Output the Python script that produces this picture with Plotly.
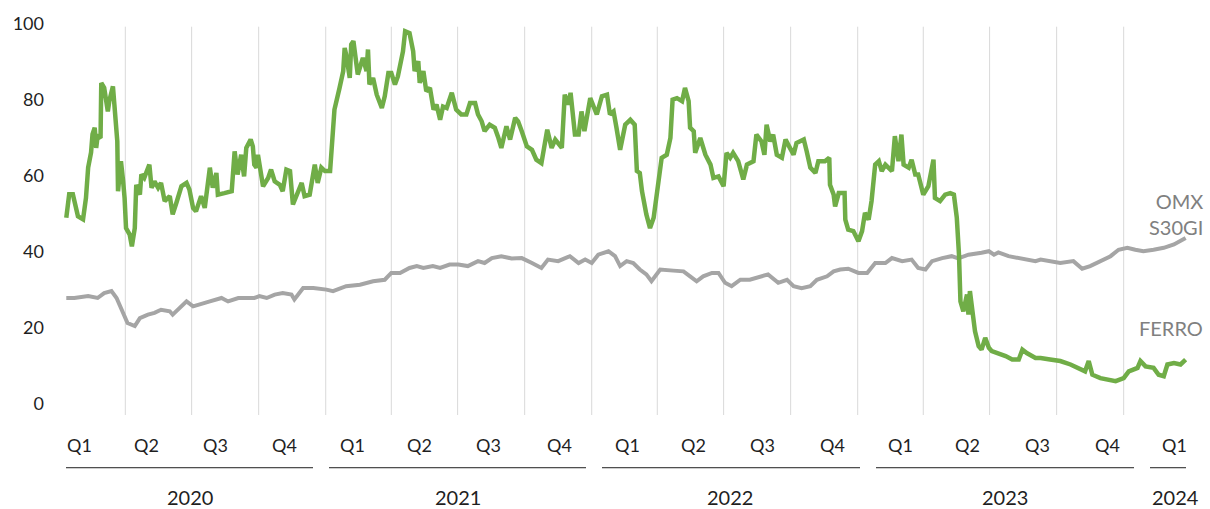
import pandas as pd
import plotly.graph_objects as go

# values; x as days since 2020-01-01
ferro_day = [10, 14, 19, 26, 33, 37, 40, 44, 46, 49, 51, 53, 57, 58, 62, 67, 69, 74, 76, 79,
             80, 81, 85, 88, 90, 92, 97, 100, 104, 106, 111, 113, 117, 124, 127, 131, 136, 140, 145, 152,
             156, 161, 168, 175, 179, 184, 188, 195, 200, 207, 211, 216, 218, 227, 237, 241, 245, 250, 254, 257,
             263, 266, 268, 271, 273, 280, 287, 291, 296, 303, 307, 312, 317, 321, 326, 333, 337, 344, 351, 355,
             360, 365, 372, 376, 378, 385, 390, 392, 394, 399, 401, 404, 407, 410, 417, 422, 424, 426, 431, 436,
             443, 447, 452, 456, 461, 465, 472, 475, 481, 486, 488, 493, 495, 500, 504, 509, 514, 518, 523, 527,
             532, 536, 539, 545, 552, 559, 564, 571, 575, 580, 584, 591, 598, 603, 607, 614, 619, 626, 630, 635,
             642, 649, 655, 662, 667, 670, 676, 681, 690, 694, 699, 702, 708, 713, 717, 721, 729, 733, 738, 745,
             752, 756, 761, 765, 770, 777, 784, 790, 793, 797, 800, 806, 811, 816, 820, 827, 834, 839, 842, 848,
             855, 859, 864, 866, 871, 873, 880, 887, 894, 898, 905, 912, 916, 921, 925, 932, 939, 944, 953, 957,
             964, 968, 971, 976, 980, 985, 992, 997, 1003, 1008, 1012, 1022, 1026, 1031, 1038, 1042, 1051, 1057, 1058, 1063,
             1065, 1070, 1078, 1079, 1083, 1090, 1097, 1102, 1106, 1111, 1115, 1120, 1125, 1129, 1134, 1143, 1147, 1152, 1156, 1159,
             1166, 1170, 1175, 1179, 1186, 1193, 1200, 1202, 1209, 1216, 1223, 1228, 1232, 1235, 1237, 1241, 1246, 1248, 1250, 1253,
             1257, 1262, 1266, 1271, 1276, 1280, 1289, 1299, 1308, 1317, 1322, 1328, 1340, 1347, 1360, 1374, 1388, 1397, 1408, 1413,
             1418, 1429, 1443, 1450, 1461, 1468, 1480, 1484, 1491, 1502, 1509, 1516, 1521, 1530, 1539, 1546]
ferro_val = [48.8, 55.0, 55.0, 49.2, 48.4, 54.0, 62.0, 66.0, 70.8, 72.5, 67.2, 70.3, 69.8, 84.3, 83.0, 76.8, 79.5, 83.4, 78.6, 72.5,
             68.9, 55.8, 63.7, 58.4, 54.0, 46.1, 44.4, 41.3, 46.1, 57.5, 54.9, 60.2, 59.3, 62.8, 56.7, 58.4, 56.7, 58.0, 53.2, 54.5,
             49.7, 52.7, 57.1, 58.0, 56.2, 51.4, 50.5, 54.5, 51.4, 62.0, 56.7, 60.6, 54.9, 55.3, 55.8, 66.3, 60.2, 65.4, 59.7, 67.2,
             69.4, 67.6, 62.8, 62.0, 65.4, 57.1, 59.3, 61.5, 58.4, 57.5, 55.8, 61.5, 61.1, 52.3, 54.9, 58.0, 54.5, 54.9, 62.8, 58.0,
             62.0, 61.1, 61.1, 71.6, 77.3, 83.0, 87.4, 93.5, 91.8, 85.6, 94.4, 95.3, 91.8, 86.5, 90.9, 87.4, 93.1, 83.9, 85.6, 81.2,
             77.7, 80.8, 86.9, 86.9, 83.9, 86.0, 92.6, 97.9, 97.4, 92.6, 87.4, 90.0, 84.3, 87.4, 82.1, 83.0, 77.3, 78.6, 74.6, 78.1,
             77.7, 80.3, 81.7, 77.3, 76.0, 76.0, 79.0, 79.0, 76.0, 74.2, 71.6, 73.3, 72.5, 69.8, 67.2, 72.9, 69.4, 75.1, 74.2, 71.6,
             67.6, 66.7, 64.1, 63.2, 69.4, 72.0, 67.2, 69.4, 67.2, 81.2, 78.6, 81.7, 70.7, 70.7, 76.8, 71.6, 80.3, 78.6, 76.0, 80.8,
             81.2, 76.0, 76.8, 72.5, 66.7, 73.3, 74.6, 73.3, 61.1, 60.6, 55.8, 49.7, 46.1, 48.8, 54.0, 64.6, 65.4, 69.8, 79.9, 80.3,
             79.5, 83.0, 79.5, 72.5, 71.6, 65.9, 69.8, 65.4, 62.8, 59.3, 59.7, 57.1, 65.9, 64.6, 65.9, 63.7, 58.9, 62.8, 63.7, 70.7,
             68.9, 65.4, 73.3, 68.9, 70.7, 65.4, 64.6, 69.4, 67.2, 65.4, 68.5, 69.4, 66.3, 62.0, 60.6, 63.7, 63.7, 64.6, 57.5, 54.9,
             51.8, 55.3, 55.3, 48.3, 45.7, 45.3, 42.6, 45.3, 50.1, 48.3, 53.2, 62.8, 63.7, 61.1, 62.8, 61.1, 70.3, 63.7, 70.7, 62.8,
             62.0, 64.1, 60.2, 60.2, 54.9, 57.1, 64.1, 54.0, 53.2, 54.9, 55.3, 54.9, 48.8, 39.1, 26.8, 24.2, 28.6, 23.3, 29.5, 25.1,
             18.9, 15.0, 14.1, 17.2, 14.6, 13.7, 13.2, 12.4, 11.5, 11.5, 14.1, 13.2, 11.9, 11.9, 11.5, 11.1, 10.2, 9.3, 8.4, 11.1,
             7.5, 6.6, 6.2, 5.8, 6.6, 8.4, 9.3, 11.1, 9.7, 9.3, 7.5, 7.1, 10.2, 10.6, 10.2, 11.5]

omx_day = [10, 21, 40, 53, 62, 72, 79, 83, 90, 94, 104, 111, 122, 131, 140, 152, 156, 165, 175, 184,
           195, 207, 223, 232, 246, 259, 268, 275, 285, 296, 307, 319, 323, 335, 349, 367, 376, 394, 413, 431,
           447, 456, 468, 481, 491, 500, 513, 523, 536, 548, 561, 575, 584, 594, 607, 621, 635, 649, 662, 671,
           685, 701, 713, 722, 731, 740, 754, 763, 770, 779, 788, 797, 806, 813, 825, 843, 857, 866, 875, 884,
           896, 905, 914, 923, 935, 948, 962, 973, 987, 999, 1008, 1019, 1031, 1040, 1054, 1063, 1072, 1083, 1097, 1109,
           1120, 1134, 1143, 1157, 1170, 1179, 1189, 1198, 1212, 1225, 1234, 1248, 1266, 1276, 1283, 1289, 1303, 1317, 1328, 1340,
           1347, 1360, 1374, 1392, 1404, 1415, 1429, 1443, 1454, 1466, 1477, 1488, 1502, 1516, 1530, 1546]
omx_val = [27.7, 27.7, 28.2, 27.7, 29.0, 29.5, 27.7, 26.0, 23.3, 21.1, 20.3, 22.4, 23.3, 23.8, 24.6, 24.2, 23.3, 25.1, 26.8, 25.5,
           26.0, 26.8, 27.7, 26.8, 27.7, 27.7, 27.7, 28.2, 27.7, 28.6, 29.0, 28.6, 27.3, 30.3, 30.3, 29.9, 29.5, 30.8, 31.2, 32.1,
           32.5, 34.3, 34.3, 35.6, 36.1, 35.6, 36.1, 35.6, 36.5, 36.5, 36.1, 37.4, 36.9, 38.2, 38.7, 38.1, 38.2, 36.9, 35.6, 37.8,
           37.4, 38.7, 36.9, 37.8, 36.9, 39.1, 40.0, 38.7, 36.1, 37.4, 36.9, 35.2, 33.9, 32.1, 35.2, 34.9, 34.7, 33.4, 32.1, 33.4,
           34.3, 34.3, 31.7, 30.8, 32.5, 32.5, 33.4, 33.9, 31.7, 32.5, 30.8, 30.3, 30.8, 32.5, 33.4, 34.7, 35.2, 35.4, 34.3, 34.3,
           36.9, 36.9, 38.2, 37.4, 37.8, 35.6, 35.2, 37.4, 38.2, 38.7, 38.1, 39.1, 39.6, 40.0, 39.1, 39.7, 38.7, 38.2, 37.8, 37.4,
           37.8, 37.4, 36.9, 37.4, 35.4, 36.1, 37.4, 38.7, 40.4, 40.9, 40.4, 40.0, 40.4, 40.9, 41.8, 43.5]

quarter_labels = ["Q1", "Q2", "Q3", "Q4"] * 4 + ["Q1"]
year_labels = ["2020", "2021", "2022", "2023", "2024"]
y_ticks = [0, 20, 40, 60, 80, 100]

start = pd.Timestamp("2020-01-01")
ferro_x = start + pd.to_timedelta(ferro_day, unit="D")
omx_x = start + pd.to_timedelta(omx_day, unit="D")

W, H = 1210, 509
L, R, T, B = 59, 20, 19, 94
PW, PH = W - L - R, H - T - B
YMIN, YMAX = -3.1, 100.6


def fx(p):
    # pixel column -> paper x
    return (p - L) / PW


def fy(p):
    # pixel row -> paper y
    return (H - B - p) / PH


GREEN = "#70AD47"
GREY = "#A5A5A5"
TXT = "#1F1F1F"
FONT = "Lato"

fig = go.Figure()
fig.add_trace(go.Scatter(x=omx_x, y=omx_val, mode="lines", name="OMX S30GI",
                         line=dict(color=GREY, width=4)))
fig.add_trace(go.Scatter(x=ferro_x, y=ferro_val, mode="lines", name="FERRO",
                         line=dict(color=GREEN, width=4.5)))

shapes = []
# vertical lines at quarter boundaries
for d in pd.date_range("2020-04-01", "2024-01-01", freq="QS"):
    shapes.append(dict(type="line", xref="x", yref="y", x0=d, x1=d, y0=YMIN, y1=99.1,
                       line=dict(color="#D9D9D9", width=1), layer="below"))

# year underlines
year_spans = [(66, 313), (329, 586), (602, 860), (876, 1134), (1150, 1186)]
for a, b in year_spans:
    shapes.append(dict(type="line", xref="paper", yref="paper", x0=fx(a), x1=fx(b),
                       y0=fy(468), y1=fy(468), line=dict(color=TXT, width=1)))

annotations = []
q_centers = [79, 146, 215, 284, 352, 419, 488, 559, 627, 693, 762, 832, 900, 967, 1037, 1107, 1174]
for lab, c in zip(quarter_labels, q_centers):
    annotations.append(dict(text=lab, x=fx(c), y=fy(445), xref="paper", yref="paper",
                            showarrow=False, xanchor="center", yanchor="middle",
                            font=dict(family=FONT, size=18, color=TXT)))

y_centers = [190, 458, 730, 1005, 1175]
for lab, c in zip(year_labels, y_centers):
    annotations.append(dict(text=lab, x=fx(c), y=fy(497), xref="paper", yref="paper",
                            showarrow=False, xanchor="center", yanchor="middle",
                            font=dict(family=FONT, size=20, color=TXT)))

annotations.append(dict(text="OMX<br>S30GI", x=fx(1205), y=fy(212.5), xref="paper", yref="paper",
                        showarrow=False, xanchor="right", yanchor="middle", align="right",
                        font=dict(family=FONT, size=20, color="#808080")))
annotations.append(dict(text="FERRO", x=fx(1205), y=fy(327.5), xref="paper", yref="paper",
                        showarrow=False, xanchor="right", yanchor="middle", align="right",
                        font=dict(family=FONT, size=20, color="#808080")))

fig.update_layout(
    width=W, height=H,
    margin=dict(l=L, r=R, t=T, b=B),
    paper_bgcolor="white", plot_bgcolor="white",
    showlegend=False,
    shapes=shapes,
    annotations=annotations,
    xaxis=dict(range=["2020-01-01", "2024-04-01"], showgrid=False, zeroline=False,
               showline=False, showticklabels=False, ticks=""),
    yaxis=dict(range=[YMIN, YMAX], tickvals=y_ticks, showgrid=False, zeroline=False,
               showline=False, ticks="", ticklabelstandoff=14,
               tickfont=dict(family=FONT, size=18, color=TXT)),
)

# page body has a default 8px margin; drop it so the figure fills the window
fig.write_html("out.html", config={"displayModeBar": False},
               post_script="document.body.style.margin='0';")
